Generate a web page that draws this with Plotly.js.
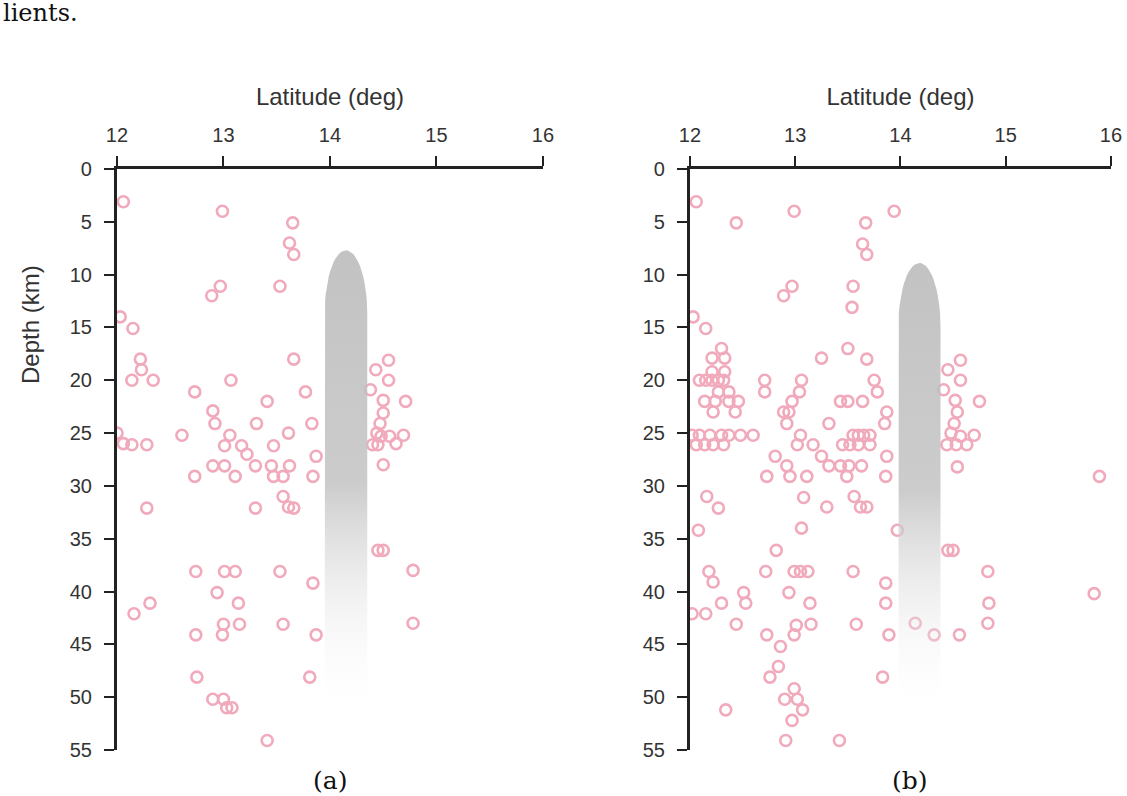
<!DOCTYPE html>
<html><head><meta charset="utf-8">
<script src="https://cdn.plot.ly/plotly-3.0.1.min.js"></script>
<style>html,body{margin:0;padding:0;background:#fff}</style>
</head><body>
<div id="chart" style="width:1127px;height:796px"></div>
<script>
// Panel (a) earthquake hypocentres: latitude (deg) and depth (km)
const latA = [12.06,12.99,13.65,13.62,13.66,12.97,12.89,13.53,12.03,12.15,
  12.22,12.23,12.14,12.34,13.66,13.07,12.73,13.77,13.41,12.90,12.92,13.31,13.83,12.61,13.06,13.61,12.00,
  12.06,12.14,12.28,13.01,13.17,13.47,13.87,13.22,12.90,13.01,13.30,13.45,13.62,12.73,13.11,13.47,13.56,13.84,
  13.56,13.61,13.66,13.30,12.28,
  14.55,14.43,14.55,14.38,14.50,14.71,14.50,14.47,14.44,14.48,14.56,14.62,14.69,14.40,14.45,14.50,
  14.45,14.50,12.74,13.01,13.11,13.53,13.84,12.94,12.31,12.16,13.14,13.00,13.15,13.56,12.74,12.99,13.87,
  12.75,13.81,12.90,13.00,13.03,13.08,13.41,14.78,14.78];
const depthA = [3.1,4.0,5.1,7.0,8.1,11.1,12.0,11.1,14.0,15.1,
  18.0,19.0,20.0,20.0,18.0,20.0,21.1,21.1,22.0,22.9,24.1,24.1,24.1,25.2,25.2,25.0,25.0,
  26.0,26.1,26.1,26.2,26.2,26.2,27.2,27.0,28.1,28.1,28.1,28.1,28.1,29.1,29.1,29.1,29.1,29.1,
  31.0,32.0,32.1,32.1,32.1,
  18.1,19.0,20.0,20.9,21.9,22.0,23.1,24.1,25.0,25.3,25.3,26.0,25.2,26.1,26.1,28.0,
  36.1,36.1,38.1,38.1,38.1,38.1,39.2,40.1,41.1,42.1,41.1,43.1,43.1,43.1,44.1,44.1,44.1,
  48.1,48.1,50.2,50.2,51.0,51.0,54.1,38.0,43.0];

// Panel (b)
const latB = [12.06,12.44,12.99,13.94,13.67,13.64,13.68,12.97,12.89,13.55,13.54,12.03,12.15,13.50,12.30,13.68,13.25,
  12.21,12.33,12.21,12.33,12.09,12.15,12.21,12.27,12.32,12.27,12.37,12.14,12.24,12.37,12.46,12.22,12.43,
  12.09,12.19,12.30,12.37,12.48,12.60,12.02,12.06,12.14,12.22,12.32,
  12.71,12.71,13.06,13.04,12.97,12.89,12.94,12.92,13.43,13.50,13.64,13.75,13.78,13.87,13.85,13.32,13.05,13.02,13.17,
  13.25,13.32,13.55,13.60,13.65,13.71,13.45,13.52,13.60,13.71,13.43,13.51,13.63,13.49,12.81,12.92,12.73,12.95,13.11,
  13.87,13.86,13.08,13.56,13.62,13.68,13.30,12.16,12.27,12.08,13.06,13.97,
  12.82,12.18,12.22,12.72,12.99,13.05,13.12,13.55,13.86,12.51,12.53,12.94,12.30,13.14,13.86,12.02,12.15,12.44,13.01,
  13.15,13.58,12.73,12.99,13.89,12.86,12.84,12.76,13.83,12.99,12.90,13.02,13.07,12.34,12.97,12.91,13.42,
  14.57,14.45,14.57,14.41,14.52,14.75,14.54,14.51,14.48,14.57,14.70,14.44,14.53,14.63,14.54,15.89,14.45,14.50,
  14.83,14.84,15.84,14.83,14.14,14.32,14.56];
const depthB = [3.1,5.1,4.0,4.0,5.1,7.1,8.1,11.1,12.0,11.1,13.1,14.0,15.1,17.0,17.0,18.0,17.9,
  17.9,17.9,19.2,19.2,20.0,20.0,20.0,20.0,20.0,21.1,21.1,22.0,22.0,22.0,22.0,23.0,23.0,
  25.2,25.2,25.2,25.2,25.2,25.2,25.2,26.1,26.1,26.1,26.1,
  20.0,21.1,20.0,21.1,22.0,23.0,23.0,24.1,22.0,22.0,22.0,20.0,21.1,23.0,24.1,24.1,25.2,26.1,26.1,
  27.2,28.1,25.2,25.2,25.2,25.2,26.1,26.1,26.1,26.1,28.1,28.1,28.1,29.1,27.2,28.1,29.1,29.1,29.1,
  27.2,29.1,31.1,31.0,32.0,32.0,32.0,31.0,32.1,34.2,34.0,34.2,
  36.1,38.1,39.1,38.1,38.1,38.1,38.1,38.1,39.2,40.1,41.1,40.1,41.1,41.1,41.1,42.1,42.1,43.1,43.2,
  43.1,43.1,44.1,44.1,44.1,45.2,47.1,48.1,48.1,49.2,50.2,50.2,51.2,51.2,52.2,54.1,54.1,
  18.1,19.0,20.0,20.9,21.9,22.0,23.0,24.1,25.0,25.3,25.2,26.1,26.1,26.1,28.2,29.1,36.1,36.1,
  38.1,41.1,40.2,43.0,43.0,44.1,44.1];

// Magma-body (plume) shape parameters per panel: centre lat, half width, top depth, cap height, bottom depth
const plumeCenter = [14.15, 14.18];
const plumeHalfWidth = [0.2, 0.2];
const plumeTop = [7.7, 8.9];
const plumeCap = [6, 6];
const plumeBottom = [52, 52];

const xTickVals = [12, 13, 14, 15, 16];
const yTickVals = [0, 5, 10, 15, 20, 25, 30, 35, 40, 45, 50, 55];

function plumeOutline(i) {
  const c = plumeCenter[i], hw = plumeHalfWidth[i], top = plumeTop[i], cap = plumeCap[i], bot = plumeBottom[i];
  const xs = [c - hw], ys = [bot];
  const n = 30;
  for (let k = 0; k <= n; k++) {
    const a = Math.PI * (1 - k / n);
    xs.push(c + hw * Math.cos(a));
    ys.push(top + cap * (1 - Math.sin(a)));
  }
  xs.push(c + hw); ys.push(bot);
  xs.push(c - hw); ys.push(bot);
  return {xs, ys};
}

const pink = '#f0aabb';
function quakes(x, y, xa, ya) {
  return {type:'scatter', mode:'markers', x:x, y:y, xaxis:xa, yaxis:ya, showlegend:false,
    marker:{symbol:'circle-open', size:11, color:pink, line:{width:2.6, color:pink}}, hoverinfo:'x+y'};
}
function plume(i, xa, ya) {
  const o = plumeOutline(i);
  return {type:'scatter', mode:'lines', x:o.xs, y:o.ys, xaxis:xa, yaxis:ya, showlegend:false,
    fill:'toself', line:{width:0, color:'rgba(0,0,0,0)'}, hoverinfo:'skip',
    fillgradient:{type:'vertical', start:plumeTop[i], stop:plumeBottom[i],
      colorscale:[[0,'rgba(188,188,188,0.9)'],[0.5,'rgba(195,195,195,0.85)'],[1,'rgba(255,255,255,0)']]}};
}

const data = [
  quakes(latA, depthA, 'x', 'y'), plume(0, 'x', 'y'),
  quakes(latB, depthB, 'x2', 'y2'), plume(1, 'x2', 'y2')
];

const tickFont = {family:'Liberation Sans, Arial, sans-serif', size:20, color:'#333'};
const titleFont = {family:'Liberation Sans, Arial, sans-serif', size:24, color:'#333'};
function xax(dom, anchor) {
  return {domain:dom, anchor:anchor, side:'top', range:[12,16], tickvals:xTickVals, ticks:'outside', ticklen:10,
    tickwidth:2, tickcolor:'#222', showline:true, linewidth:3, linecolor:'#222', showgrid:false, zeroline:false,
    tickfont:tickFont, ticklabelstandoff:6,
    title:{text:'Latitude (deg)', font:titleFont, standoff:12}};
}
function yax(anchor) {
  return {domain:[0.0578, 0.7877], anchor:anchor, range:[55,0], tickvals:yTickVals, ticks:'outside', ticklen:10,
    tickwidth:2, tickcolor:'#222', showline:true, linewidth:3, linecolor:'#222', showgrid:false, zeroline:false,
    tickfont:tickFont, ticklabelstandoff:8};
}

const layout = {
  width:1127, height:796, margin:{l:0,r:0,t:0,b:0}, paper_bgcolor:'#fff', plot_bgcolor:'rgba(0,0,0,0)',
  xaxis: xax([0.1038, 0.4818], 'y'),
  yaxis: yax('x'),
  xaxis2: xax([0.6122, 0.9858], 'y2'),
  yaxis2: yax('x2'),
  annotations:[
    {text:'Depth (km)', textangle:-90, xref:'paper', yref:'paper', x:30/1127, y:1-325/796, showarrow:false,
     font:titleFont, xanchor:'center', yanchor:'middle'},
    {text:'(a)', xref:'paper', yref:'paper', x:330/1127, y:1-780/796, showarrow:false,
     font:{family:'DejaVu Serif, serif', size:25, color:'#111'}, xanchor:'center', yanchor:'middle'},
    {text:'(b)', xref:'paper', yref:'paper', x:910/1127, y:1-780/796, showarrow:false,
     font:{family:'DejaVu Serif, serif', size:25, color:'#111'}, xanchor:'center', yanchor:'middle'},
    {text:'lients.', xref:'paper', yref:'paper', x:1/1127, y:1-13/796, showarrow:false,
     font:{family:'DejaVu Serif, serif', size:24, color:'#111'}, xanchor:'left', yanchor:'middle'}
  ]
};

Plotly.newPlot('chart', data, layout, {displayModeBar:false, staticPlot:true});
</script>
</body></html>
